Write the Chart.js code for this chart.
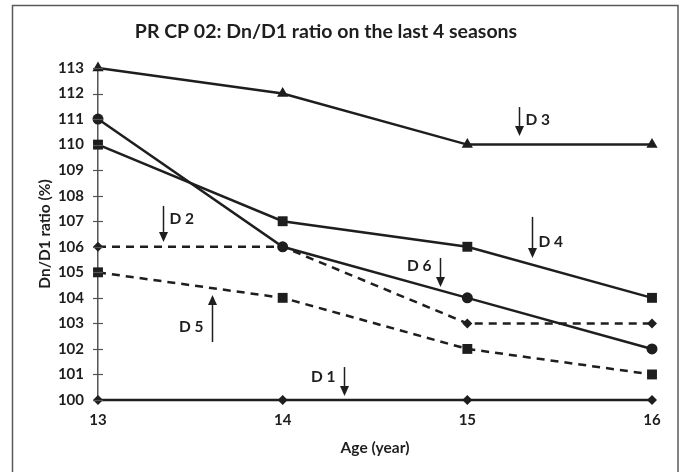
<!DOCTYPE html>
<html>
<head>
<meta charset="utf-8">
<script src="https://cdn.jsdelivr.net/npm/chart.js@4/dist/chart.umd.min.js"></script>
<style>
  html, body { margin: 0; padding: 0; background: #fff; }
  #wrap { width: 688px; height: 472px; }
</style>
</head>
<body>
<div id="wrap"><canvas id="ratioChart" width="688" height="472"></canvas></div>
<script>
// ages on the x axis
const AGES = [13, 14, 15, 16];

// Dn/D1 ratio (%) for each series
const D1 = [100, 100, 100, 100];
const D2 = [106, 106, 103, 103];
const D3 = [113, 112, 110, 110];
const D4 = [110, 107, 106, 104];
const D5 = [105, 104, 102, 101];
const D6 = [111, 106, 104, 102];

const Y_TICKS = [100, 101, 102, 103, 104, 105, 106, 107, 108, 109, 110, 111, 112, 113];

// arrow callouts: label, x, arrow start y, arrow tip y, label y, label side
const ARROW_LABELS = ['D 1', 'D 2', 'D 3', 'D 4', 'D 5', 'D 6'];
const ARROW_X      = [14.33, 13.35, 15.28, 15.35, 13.62, 14.85];
const ARROW_FROM   = [101.29, 107.6, 111.47, 107.17, 102.27, 105.56];
const ARROW_TO     = [100.16, 106.19, 110.34, 105.56, 104.11, 104.42];
const LABEL_Y      = [100.9, 107.09, 110.96, 106.19, 102.86, 105.25];
const LABEL_SIDE   = ['left', 'right', 'right', 'right', 'left', 'left'];

const INK = '#1e1e1e';
const FONT = 'Lato, "Open Sans", sans-serif';

function pts(values) {
    return AGES.map((a, i) => ({ x: a, y: values[i] }));
}

function series(label, values, style, radius, dashed) {
    return {
        label: label,
        data: pts(values),
        borderColor: INK,
        backgroundColor: INK,
        borderWidth: 2.5,
        borderDash: dashed ? [8, 6] : [],
        pointStyle: style,
        pointRadius: radius,
        pointHoverRadius: radius,
        pointBorderWidth: 0,
        tension: 0,
        clip: false
    };
}

// outer frame round the whole figure
const framePlugin = {
    id: 'frame',
    beforeDraw(chart) {
        const ctx = chart.ctx;
        ctx.save();
        ctx.strokeStyle = '#5a5a5a';
        ctx.lineWidth = 1.5;
        ctx.strokeRect(12.5, 5.5, 665.5, 480);
        ctx.restore();
    }
};

// little tick marks that cross the y axis
const crossTicks = {
    id: 'crossTicks',
    afterDraw(chart) {
        const ctx = chart.ctx;
        const y = chart.scales.y;
        ctx.save();
        ctx.strokeStyle = '#555';
        ctx.lineWidth = 1.2;
        Y_TICKS.forEach(v => {
            const py = Math.round(y.getPixelForValue(v)) + 0.5;
            ctx.beginPath();
            ctx.moveTo(y.right - 5, py);
            ctx.lineTo(y.right + 5, py);
            ctx.stroke();
        });
        ctx.restore();
    }
};

// arrows with their D n labels
const arrowPlugin = {
    id: 'arrows',
    afterDatasetsDraw(chart) {
        const ctx = chart.ctx;
        const xs = chart.scales.x;
        const ys = chart.scales.y;
        ctx.save();
        ctx.strokeStyle = INK;
        ctx.fillStyle = INK;
        ctx.lineWidth = 1.5;
        ARROW_LABELS.forEach((lab, i) => {
            const px = Math.round(xs.getPixelForValue(ARROW_X[i])) + 0.5;
            const y0 = ys.getPixelForValue(ARROW_FROM[i]);
            const y1 = ys.getPixelForValue(ARROW_TO[i]);
            const dir = y1 > y0 ? 1 : -1;
            const head = 10;
            ctx.beginPath();
            ctx.moveTo(px, y0);
            ctx.lineTo(px, y1 - dir * head);
            ctx.stroke();
            ctx.beginPath();
            ctx.moveTo(px, y1);
            ctx.lineTo(px - 4.5, y1 - dir * head);
            ctx.lineTo(px + 4.5, y1 - dir * head);
            ctx.closePath();
            ctx.fill();

            ctx.font = 'bold 15.5px ' + FONT;
            ctx.textBaseline = 'middle';
            const ly = ys.getPixelForValue(LABEL_Y[i]);
            if (LABEL_SIDE[i] === 'left') {
                ctx.textAlign = 'right';
                ctx.fillText(lab, px - 9, ly);
            } else {
                ctx.textAlign = 'left';
                ctx.fillText(lab, px + 6, ly);
            }
        });
        ctx.restore();
    }
};

new Chart(document.getElementById('ratioChart'), {
    type: 'line',
    data: {
        datasets: [
            series('D 1', D1, 'rectRot', 5, false),
            series('D 2', D2, 'rectRot', 5, true),
            series('D 3', D3, 'triangle', 6.5, false),
            series('D 4', D4, 'rect', 7, false),
            series('D 5', D5, 'rect', 7, true),
            series('D 6', D6, 'circle', 5.5, false)
        ]
    },
    options: {
        responsive: false,
        animation: false,
        events: [],
        layout: { padding: { left: 0, right: 36, top: 0, bottom: 0 } },
        plugins: {
            legend: { display: false },
            tooltip: { enabled: false },
            title: {
                display: true,
                text: 'PR CP 02: Dn/D1 ratio on the last 4 seasons',
                color: INK,
                font: { family: FONT, size: 19.5, weight: 'bold', lineHeight: 1.2 },
                padding: { top: 20, bottom: 24.6 }
            }
        },
        scales: {
            x: {
                type: 'linear',
                min: 13,
                max: 16,
                afterFit(scale) { scale.height = 72; },
                afterBuildTicks(scale) { scale.ticks = AGES.map(v => ({ value: v })); },
                grid: { display: false, drawTicks: false },
                border: { display: false },
                ticks: {
                    color: INK,
                    padding: 11,
                    font: { family: FONT, size: 15, weight: 'bold' }
                },
                title: {
                    display: true,
                    text: 'Age (year)',
                    color: INK,
                    font: { family: FONT, size: 15.5, weight: 'bold', lineHeight: 1.2 },
                    padding: { top: 0, bottom: 14.7 }
                }
            },
            y: {
                min: 100,
                max: 113,
                afterFit(scale) { scale.width = 98; },
                afterBuildTicks(scale) { scale.ticks = Y_TICKS.map(v => ({ value: v })); },
                grid: { display: false, drawTicks: false },
                border: { display: true, color: '#555', width: 1.5 },
                ticks: {
                    color: INK,
                    padding: 14,
                    font: { family: FONT, size: 15, weight: 'bold' }
                },
                title: {
                    display: true,
                    text: 'Dn/D1 ratio (%)',
                    color: INK,
                    font: { family: FONT, size: 15.5, weight: 'bold', lineHeight: 1.2 },
                    padding: { top: 35.7, bottom: 0 }
                }
            }
        }
    },
    plugins: [framePlugin, crossTicks, arrowPlugin]
});
</script>
</body>
</html>
